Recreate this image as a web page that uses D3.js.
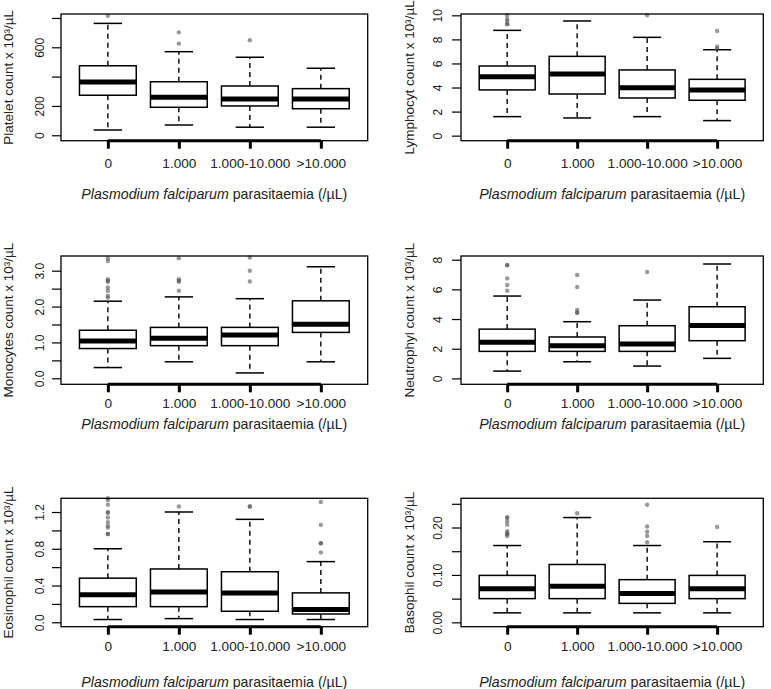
<!DOCTYPE html>
<html><head><meta charset="utf-8">
<script src="https://cdn.jsdelivr.net/npm/d3@7"></script>
<style>
body{margin:0;background:#fff}
svg{display:block}
text{font-family:"Liberation Sans", Arial, Helvetica, sans-serif; fill:#222}
</style>
</head><body>
<svg id="chart" width="771" height="689"></svg>
<script>
// ---- data ----
const categories = ["0", "1.000", "1.000-10.000", ">10.000"];
const xAxisTitleItalic = "Plasmodium falciparum";
const xAxisTitleRest = " parasitaemia (/µL)";

// stats per category: [lower whisker, Q1, median, Q3, upper whisker]
const plateletStats = [[36, 273, 363, 474, 763], [70, 191, 259, 365, 570], [55, 200, 247, 336, 532], [55, 181, 247, 318, 457]];
const plateletOutliers = [[815], [702, 625], [648], []];
const plateletTicks = [0, 200, 400, 600, 800];
const plateletTickLabels = ["0", "200", "", "600", ""];

const lymphStats = [[1.58, 3.80, 4.90, 5.79, 8.75], [1.47, 3.46, 5.12, 6.59, 9.53], [1.58, 3.13, 3.99, 5.46, 8.17], [1.25, 2.94, 3.80, 4.68, 7.14]];
const lymphOutliers = [[10.0, 9.7, 9.53, 9.3, 9.25], [], [10.0], [8.70, 7.39, 7.23]];
const lymphTicks = [0, 2, 4, 6, 8, 10];
const lymphTickLabels = ["0", "2", "4", "6", "8", "10"];

const monoStats = [[0.30, 0.83, 1.04, 1.34, 2.15], [0.46, 0.91, 1.12, 1.42, 2.27], [0.15, 0.91, 1.21, 1.42, 2.22], [0.46, 1.28, 1.51, 2.16, 3.11]];
const monoOutliers = [[3.35, 3.27, 2.76, 2.72, 2.69, 2.53, 2.44, 2.30, 2.25], [3.35, 2.76, 2.72, 2.69, 2.44], [3.37, 3.00, 2.70], []];
const monoTicks = [0, 0.5, 1.0, 1.5, 2.0, 2.5, 3.0];
const monoTickLabels = ["0.0", "", "1.0", "", "2.0", "", "3.0"];

const neutroStats = [[0.49, 1.82, 2.43, 3.32, 5.55], [1.12, 1.82, 2.20, 2.79, 3.82], [0.83, 1.82, 2.31, 3.55, 5.28], [1.35, 2.54, 3.57, 4.83, 7.71]];
const neutroOutliers = [[7.64, 7.62, 6.74, 6.29, 5.91], [6.97, 6.16, 4.61, 4.45, 4.40], [7.17], []];
const neutroTicks = [0, 2, 4, 6, 8];
const neutroTickLabels = ["0", "2", "4", "6", "8"];

const eosinoStats = [[0.03, 0.17, 0.30, 0.48, 0.80], [0.04, 0.17, 0.33, 0.58, 1.20], [0.03, 0.12, 0.32, 0.55, 1.12], [0.03, 0.09, 0.14, 0.32, 0.66]];
const eosinoOutliers = [[1.35, 1.33, 1.28, 1.20, 1.19, 1.14, 1.09, 1.05, 1.03, 0.96, 0.96], [1.26], [1.26, 1.26], [1.31, 1.06, 0.86, 0.86, 0.76]];
const eosinoTicks = [0, 0.2, 0.4, 0.6, 0.8, 1.0, 1.2];
const eosinoTickLabels = ["0.0", "", "0.4", "", "0.8", "", "1.2"];

const basoStats = [[0.020, 0.050, 0.071, 0.099, 0.162], [0.020, 0.050, 0.076, 0.122, 0.221], [0.020, 0.040, 0.061, 0.090, 0.162], [0.020, 0.050, 0.071, 0.099, 0.170]];
const basoOutliers = [[0.222, 0.220, 0.213, 0.206, 0.192, 0.188, 0.186, 0.182], [0.230], [0.248, 0.202, 0.191, 0.182, 0.169], [0.201]];
const basoTicks = [0, 0.05, 0.10, 0.15, 0.20, 0.25];
const basoTickLabels = ["0.00", "", "0.10", "", "0.20", ""];

const yTitles = ["Platelet count x 10³/µL", "Lymphocyt count x 10³/µL", "Monocytes count x 10³/µL",
                 "Neutrophyl count x 10³/µL", "Eosinophil count x 10³/µL", "Basophil count x 10³/µL"];

// ---- layout ----
const cols = [{x0: 61, x1: 367.7, titleX: 8, tickLblOff: 21}, {x0: 461, x1: 763.3, titleX: 409, tickLblOff: 23}];
const rows = [{top: 14, bottom: 140.7, tickLbl: 163, title: 193.5},
              {top: 256, bottom: 384.3, tickLbl: 403.5, title: 424},
              {top: 498.3, bottom: 626.7, tickLbl: 646, title: 681.5}];

const panels = [
  {row: 0, col: 0, stats: plateletStats, out: plateletOutliers, ticks: plateletTicks, labels: plateletTickLabels, domain: [-37, 827], title: yTitles[0]},
  {row: 0, col: 1, stats: lymphStats, out: lymphOutliers, ticks: lymphTicks, labels: lymphTickLabels, domain: [-0.42, 10.11], title: yTitles[1]},
  {row: 1, col: 0, stats: monoStats, out: monoOutliers, ticks: monoTicks, labels: monoTickLabels, domain: [-0.167, 3.41], title: yTitles[2]},
  {row: 1, col: 1, stats: neutroStats, out: neutroOutliers, ticks: neutroTicks, labels: neutroTickLabels, domain: [-0.40, 8.25], title: yTitles[3]},
  {row: 2, col: 0, stats: eosinoStats, out: eosinoOutliers, ticks: eosinoTicks, labels: eosinoTickLabels, domain: [-0.048, 1.349], title: yTitles[4]},
  {row: 2, col: 1, stats: basoStats, out: basoOutliers, ticks: basoTicks, labels: basoTickLabels, domain: [-0.0092, 0.2616], title: yTitles[5]}
];

const svg = d3.select("#chart");

function drawPanel(p) {
  const c = cols[p.col], r = rows[p.row];
  const g = svg.append("g");
  const x = d3.scaleLinear().domain([0.34, 4.66]).range([c.x0, c.x1]);
  const y = d3.scaleLinear().domain(p.domain).range([r.bottom, r.top]);
  const halfW = x(1.4) - x(1);
  const capW = halfW / 2;

  p.stats.forEach((s, i) => {
    const cx = x(i + 1);
    const bg = g.append("g");
    // whiskers
    bg.append("line").attr("x1", cx).attr("x2", cx).attr("y1", y(s[1])).attr("y2", y(s[0]))
      .attr("stroke", "#000").attr("stroke-width", 1.4).attr("stroke-dasharray", "5,4");
    bg.append("line").attr("x1", cx).attr("x2", cx).attr("y1", y(s[3])).attr("y2", y(s[4]))
      .attr("stroke", "#000").attr("stroke-width", 1.4).attr("stroke-dasharray", "5,4");
    // caps
    [s[0], s[4]].forEach(v => {
      bg.append("line").attr("x1", cx - capW).attr("x2", cx + capW).attr("y1", y(v)).attr("y2", y(v))
        .attr("stroke", "#000").attr("stroke-width", 1.5);
    });
    // box
    bg.append("rect").attr("x", cx - halfW).attr("width", 2 * halfW)
      .attr("y", y(s[3])).attr("height", y(s[1]) - y(s[3]))
      .attr("fill", "#fff").attr("stroke", "#000").attr("stroke-width", 1.5);
    // median
    bg.append("line").attr("x1", cx - halfW).attr("x2", cx + halfW).attr("y1", y(s[2])).attr("y2", y(s[2]))
      .attr("stroke", "#000").attr("stroke-width", 5);
    // outliers
    bg.selectAll("circle").data(p.out[i]).join("circle")
      .attr("cx", cx).attr("cy", d => y(d)).attr("r", 2.2)
      .attr("fill", "#555").attr("fill-opacity", 0.6);
  });

  // frame
  g.append("rect").attr("x", c.x0).attr("y", r.top).attr("width", c.x1 - c.x0).attr("height", r.bottom - r.top)
    .attr("fill", "none").attr("stroke", "#000").attr("stroke-width", 1.3);

  // y axis
  const ya = g.append("g").attr("transform", `translate(${c.x0},0)`)
    .call(d3.axisLeft(y).tickValues(p.ticks).tickFormat((d, i) => p.labels[i]).tickSize(9).tickSizeOuter(0));
  ya.select(".domain").remove();
  ya.selectAll(".tick line").attr("stroke", "#000").attr("stroke-width", 1.2);
  ya.selectAll(".tick text").attr("x", null).attr("dy", "0.36em")
    .attr("text-anchor", "middle")
    .attr("transform", `translate(${-c.tickLblOff},0) rotate(-90)`)
    .style("font-size", "12px").attr("fill", "#222");

  // x axis
  const xa = g.append("g").attr("transform", `translate(0,${r.bottom})`)
    .call(d3.axisBottom(x).tickValues([1, 2, 3, 4]).tickFormat((d, i) => categories[i]).tickSize(8));
  xa.select(".domain").remove();
  xa.append("line").attr("x1", x(1)).attr("x2", x(4)).attr("y1", 0).attr("y2", 0)
    .attr("stroke", "#000").attr("stroke-width", 3);
  xa.selectAll(".tick line").attr("stroke", "#000").attr("stroke-width", 3);
  xa.selectAll(".tick text").attr("y", r.tickLbl - r.bottom).attr("dy", "0.36em")
    .style("font-size", "13.6px").attr("fill", "#222");

  // y title
  g.append("text").attr("transform", `translate(${c.titleX},${(r.top + r.bottom) / 2}) rotate(-90)`)
    .attr("text-anchor", "middle").attr("dy", "0.36em").style("font-size", "13.5px").text(p.title);

  // x title
  const xt = g.append("text").attr("x", (c.x0 + c.x1) / 2).attr("y", r.title).attr("dy", "0.36em")
    .attr("text-anchor", "middle").style("font-size", "14.2px");
  xt.append("tspan").style("font-style", "italic").text(xAxisTitleItalic);
  xt.append("tspan").text(xAxisTitleRest);
}

panels.forEach(drawPanel);
</script>
</body></html>
